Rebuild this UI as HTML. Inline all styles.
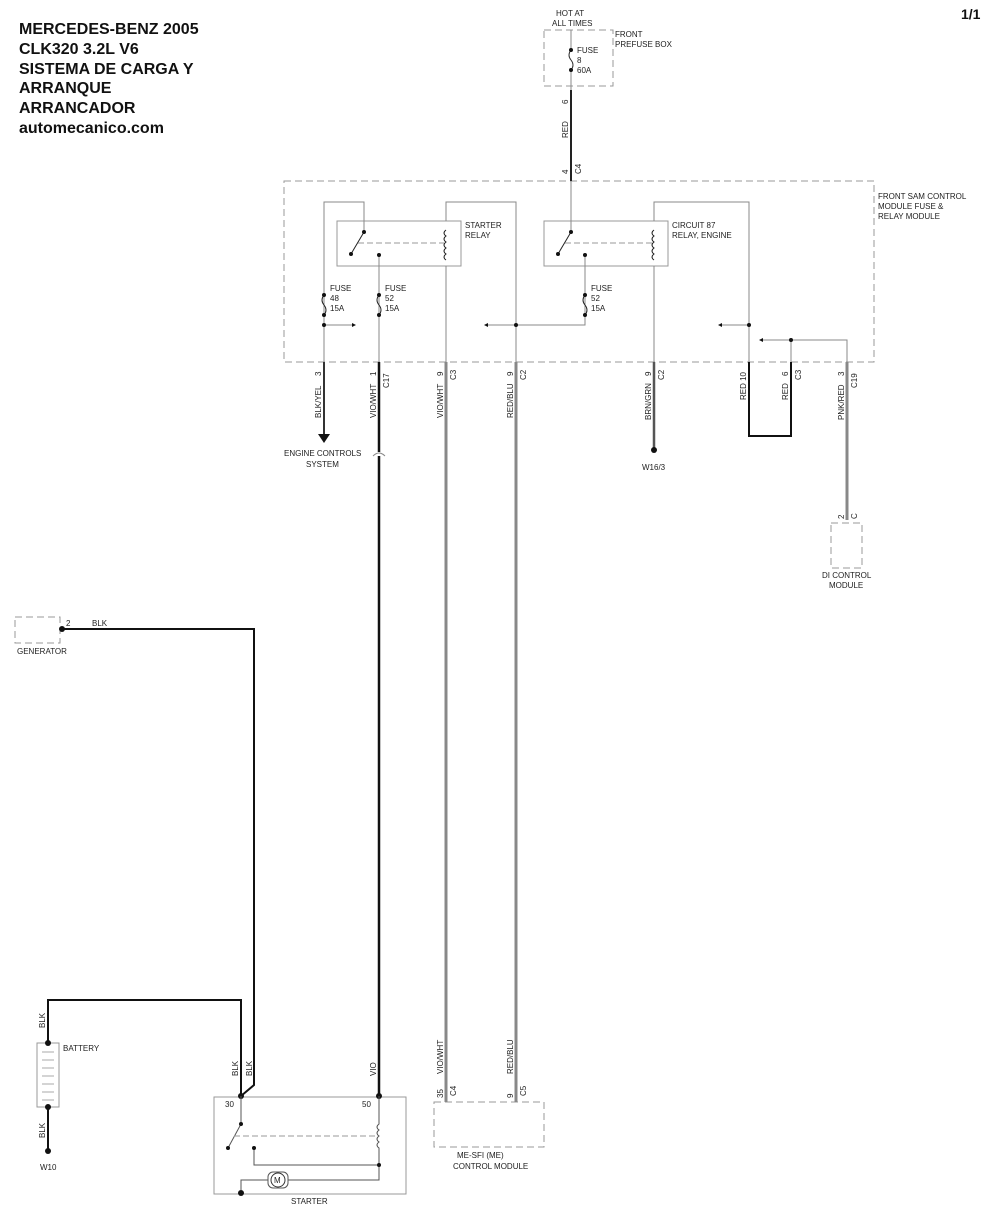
<!DOCTYPE html>
<html><head><meta charset="utf-8"><style>
html,body{margin:0;padding:0;background:#fff}
svg{display:block}
text{font-family:"Liberation Sans",Arial,sans-serif;font-size:8px;fill:#222}
.t{font-size:16px;font-weight:bold;fill:#111}
</style></head><body>
<svg width="987" height="1218" viewBox="0 0 987 1218" xmlns="http://www.w3.org/2000/svg">
<g>
<text class="t" x="19" y="34">MERCEDES-BENZ 2005</text>
<text class="t" x="19" y="54">CLK320 3.2L V6</text>
<text class="t" x="19" y="74">SISTEMA DE CARGA Y</text>
<text class="t" x="19" y="93">ARRANQUE</text>
<text class="t" x="19" y="113">ARRANCADOR</text>
<text class="t" x="19" y="133">automecanico.com</text>
<text class="t" x="961" y="19" style="font-size:14px">1/1</text>
</g>

<!-- dashed boxes -->
<g fill="none" stroke="#999" stroke-width="1" stroke-dasharray="7,4">
<rect x="544" y="30" width="69" height="56"/>
<rect x="284" y="181" width="590" height="181"/>
<rect x="831" y="523" width="31" height="45"/>
<rect x="15" y="617" width="45" height="26"/>
<rect x="434" y="1102" width="110" height="45"/>
</g>
<text x="556" y="16">HOT AT</text>
<text x="552" y="26">ALL TIMES</text>
<text x="615" y="37">FRONT</text>
<text x="615" y="47">PREFUSE BOX</text>
<text x="878" y="199">FRONT SAM CONTROL</text>
<text x="878" y="209">MODULE FUSE &amp;</text>
<text x="878" y="219">RELAY MODULE</text>

<!-- top fuse -->
<g stroke="#888" fill="none">
<line x1="571" y1="30" x2="571" y2="50"/>
<path d="M571 50 q-4 5 0 10 q4 5 0 10" stroke="#333"/>
<line x1="571" y1="70" x2="571" y2="90"/>
</g>
<circle cx="571" cy="50" r="2" fill="#111"/><circle cx="571" cy="70" r="2" fill="#111"/>
<text x="577" y="53">FUSE</text><text x="577" y="63">8</text><text x="577" y="73">60A</text>
<line x1="571" y1="90" x2="571" y2="181" stroke="#222" stroke-width="2"/>

<!-- relays -->
<g fill="none" stroke="#999">
<rect x="337" y="221" width="124" height="45"/>
<rect x="544" y="221" width="124" height="45"/>
</g>
<text x="465" y="228">STARTER</text><text x="465" y="238">RELAY</text>
<text x="672" y="228">CIRCUIT 87</text><text x="672" y="238">RELAY, ENGINE</text>

<!-- internal thin wires -->
<g fill="none" stroke="#888" stroke-width="1">
<path d="M324 362 V202 H364 V232"/>
<path d="M379 255 V362"/>
<path d="M446 221 V202 H516 V362"/>
<path d="M446 266 V362"/>
<path d="M571 181 V232"/>
<path d="M585 255 V325 H516"/>
<path d="M516 325 H488"/>
<path d="M654 221 V202 H749 V362"/>
<path d="M654 266 V362"/>
<path d="M749 325 H722"/>
<path d="M791 362 V340 H847 V362"/>
<path d="M791 340 H763"/>
<path d="M324 325 H352"/>
</g>
<!-- relay internals -->
<g stroke="#222" stroke-width="1" fill="none">
<line x1="364" y1="232" x2="351" y2="254"/>
<line x1="571" y1="232" x2="558" y2="254"/>
<path d="M446 230 q-4 3 0 6 q-4 3 0 6 q-4 3 0 6 q-4 3 0 6 q-4 3 0 6"/>
<path d="M654 230 q-4 3 0 6 q-4 3 0 6 q-4 3 0 6 q-4 3 0 6 q-4 3 0 6"/>
<path d="M324 295 q-4 5 0 10 q4 5 0 10"/>
<path d="M379 295 q-4 5 0 10 q4 5 0 10"/>
<path d="M585 295 q-4 5 0 10 q4 5 0 10"/>
</g>
<g stroke="#999" stroke-dasharray="6,3">
<line x1="358" y1="243" x2="444" y2="243"/>
<line x1="565" y1="243" x2="652" y2="243"/>
</g>
<g fill="#111">
<circle cx="364" cy="232" r="2"/><circle cx="351" cy="254" r="2"/><circle cx="379" cy="255" r="2"/>
<circle cx="571" cy="232" r="2"/><circle cx="558" cy="254" r="2"/><circle cx="585" cy="255" r="2"/>
<circle cx="324" cy="295" r="2"/><circle cx="324" cy="315" r="2"/>
<circle cx="379" cy="295" r="2"/><circle cx="379" cy="315" r="2"/>
<circle cx="585" cy="295" r="2"/><circle cx="585" cy="315" r="2"/>
<circle cx="324" cy="325" r="2"/><circle cx="516" cy="325" r="2"/><circle cx="749" cy="325" r="2"/><circle cx="791" cy="340" r="2"/>
<path d="M356 325 l-4 -2 v4z"/><path d="M484 325 l4 -2 v4z"/><path d="M718 325 l4 -2 v4z"/><path d="M759 340 l4 -2 v4z"/>
</g>
<text x="330" y="291">FUSE</text><text x="330" y="301">48</text><text x="330" y="311">15A</text>
<text x="385" y="291">FUSE</text><text x="385" y="301">52</text><text x="385" y="311">15A</text>
<text x="591" y="291">FUSE</text><text x="591" y="301">52</text><text x="591" y="311">15A</text>

<!-- external wires -->
<line x1="324" y1="362" x2="324" y2="434" stroke="#333" stroke-width="2"/>
<path d="M318 434 h12 l-6 9z" fill="#111"/>
<text x="284" y="456">ENGINE CONTROLS</text><text x="306" y="467">SYSTEM</text>
<line x1="379" y1="362" x2="379" y2="1096" stroke="#111" stroke-width="2.5"/>
<line x1="446" y1="362" x2="446" y2="1102" stroke="#888" stroke-width="3"/>
<line x1="516" y1="362" x2="516" y2="1102" stroke="#888" stroke-width="3"/>
<line x1="654" y1="362" x2="654" y2="450" stroke="#555" stroke-width="2.5"/>
<circle cx="654" cy="450" r="3" fill="#111"/>
<text x="642" y="470">W16/3</text>
<path d="M749 362 V436 H791 V362" fill="none" stroke="#111" stroke-width="2"/>
<line x1="847" y1="362" x2="847" y2="520" stroke="#888" stroke-width="3"/>
<text x="822" y="578">DI CONTROL</text><text x="829" y="588">MODULE</text>

<!-- rotated labels -->
<g>
<text transform="translate(568,104) rotate(-90)">6</text>
<text transform="translate(568,138) rotate(-90)">RED</text>
<text transform="translate(568,174) rotate(-90)">4</text>
<text transform="translate(581,174) rotate(-90)">C4</text>
<text transform="translate(321,376) rotate(-90)">3</text>
<text transform="translate(321,418) rotate(-90)">BLK/YEL</text>
<text transform="translate(376,376) rotate(-90)">1</text>
<text transform="translate(389,388) rotate(-90)">C17</text>
<text transform="translate(376,418) rotate(-90)">VIO/WHT</text>
<text transform="translate(443,376) rotate(-90)">9</text>
<text transform="translate(456,380) rotate(-90)">C3</text>
<text transform="translate(443,418) rotate(-90)">VIO/WHT</text>
<text transform="translate(513,376) rotate(-90)">9</text>
<text transform="translate(526,380) rotate(-90)">C2</text>
<text transform="translate(513,418) rotate(-90)">RED/BLU</text>
<text transform="translate(651,376) rotate(-90)">9</text>
<text transform="translate(664,380) rotate(-90)">C2</text>
<text transform="translate(651,420) rotate(-90)">BRN/GRN</text>
<text transform="translate(746,400) rotate(-90)">RED  10</text>
<text transform="translate(788,376) rotate(-90)">6</text>
<text transform="translate(801,380) rotate(-90)">C3</text>
<text transform="translate(788,400) rotate(-90)">RED</text>
<text transform="translate(844,376) rotate(-90)">3</text>
<text transform="translate(857,388) rotate(-90)">C19</text>
<text transform="translate(844,420) rotate(-90)">PNK/RED</text>
<text transform="translate(844,519) rotate(-90)">2</text>
<text transform="translate(857,519) rotate(-90)">C</text>
<text transform="translate(45,1028) rotate(-90)">BLK</text>
<text transform="translate(45,1138) rotate(-90)">BLK</text>
<text transform="translate(238,1076) rotate(-90)">BLK</text>
<text transform="translate(252,1076) rotate(-90)">BLK</text>
<text transform="translate(376,1076) rotate(-90)">VIO</text>
<text transform="translate(443,1074) rotate(-90)">VIO/WHT</text>
<text transform="translate(513,1074) rotate(-90)">RED/BLU</text>
<text transform="translate(443,1098) rotate(-90)">35</text>
<text transform="translate(456,1096) rotate(-90)">C4</text>
<text transform="translate(513,1098) rotate(-90)">9</text>
<text transform="translate(526,1096) rotate(-90)">C5</text>
</g>
<text x="457" y="1158">ME-SFI (ME)</text><text x="453" y="1169">CONTROL MODULE</text>

<!-- connector gap mark on 379 -->
<rect x="372" y="452" width="14" height="4" fill="#fff"/>
<path d="M373 456 q6 -6 12 0" stroke="#888" fill="none"/>

<!-- generator -->
<path d="M62 629 H254 V1085 L241 1096" fill="none" stroke="#111" stroke-width="2"/>
<circle cx="62" cy="629" r="3" fill="#111"/>
<text x="66" y="626">2</text><text x="92" y="626">BLK</text>
<text x="17" y="654">GENERATOR</text>

<!-- battery -->
<path d="M48 1043 V1000 H241 V1096" fill="none" stroke="#111" stroke-width="2"/>
<rect x="37" y="1043" width="22" height="64" fill="#fff" stroke="#999"/>
<g stroke="#aaa"><line x1="42" y1="1052" x2="54" y2="1052"/><line x1="42" y1="1060" x2="54" y2="1060"/><line x1="42" y1="1068" x2="54" y2="1068"/><line x1="42" y1="1076" x2="54" y2="1076"/><line x1="42" y1="1084" x2="54" y2="1084"/><line x1="42" y1="1092" x2="54" y2="1092"/><line x1="42" y1="1100" x2="54" y2="1100"/></g>
<line x1="48" y1="1107" x2="48" y2="1150" stroke="#111" stroke-width="2"/>
<circle cx="48" cy="1043" r="3" fill="#111"/><circle cx="48" cy="1107" r="3" fill="#111"/><circle cx="48" cy="1151" r="3" fill="#111"/>
<text x="63" y="1051">BATTERY</text>
<text x="40" y="1170">W10</text>

<!-- starter -->
<rect x="214" y="1097" width="192" height="97" fill="none" stroke="#999"/>
<circle cx="241" cy="1096" r="3" fill="#111"/><circle cx="379" cy="1096" r="3" fill="#111"/>
<text x="225" y="1107">30</text><text x="362" y="1107">50</text>
<g fill="none" stroke="#555">
<line x1="241" y1="1096" x2="241" y2="1124"/>
<line x1="241" y1="1124" x2="228" y2="1148"/>
<path d="M379 1096 V1124 q-4 3 0 6 q-4 3 0 6 q-4 3 0 6 q-4 3 0 6 V1165 H254 V1148"/>
<path d="M379 1165 V1180 H288 M268 1180 H241 V1190"/>
</g>
<line x1="234" y1="1136" x2="377" y2="1136" stroke="#999" stroke-dasharray="6,3"/>
<rect x="268" y="1172" width="20" height="16" rx="5" fill="#fff" stroke="#555"/>
<circle cx="278" cy="1180" r="7" fill="#fff" stroke="#333"/>
<text x="274" y="1183">M</text>
<g fill="#111"><circle cx="241" cy="1124" r="2"/><circle cx="228" cy="1148" r="2"/><circle cx="254" cy="1148" r="2"/><circle cx="379" cy="1165" r="2"/><circle cx="241" cy="1193" r="3"/></g>
<text x="291" y="1204">STARTER</text>
</svg>
</body></html>
